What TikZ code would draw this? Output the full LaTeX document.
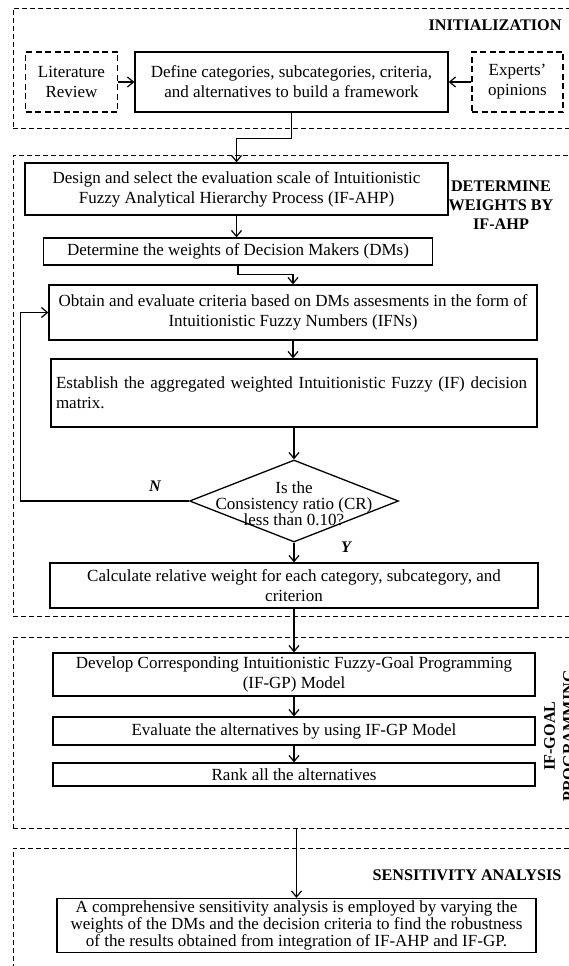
\documentclass[tikz,border=0pt]{standalone}
\usepackage{fontspec}
\setmainfont{Liberation Serif}
\usetikzlibrary{arrows.meta,shapes.geometric}
\tikzset{
  frame/.style    = { draw, dash pattern=on 5pt off 3pt, line width=0.9pt, inner sep=0pt },
  srcbox/.style   = { draw, dash pattern=on 6pt off 3.5pt, line width=1.2pt, align=center, inner sep=0pt },
  stepbox/.style  = { draw, line width=1.3pt, align=center, inner sep=0pt },
  decision/.style = { draw, diamond, line width=1.3pt, inner sep=0pt },
  phase/.style    = { font=\fontsize{16.2}{19}\selectfont\bfseries, align=center },
  answer/.style   = { font=\fontsize{16.2}{19}\selectfont\bfseries\itshape },
  flow/.style     = { line width=1.2pt, -{Straight Barb[length=6pt,width=10pt]} }
}

\begin{document}
\begin{tikzpicture}[x=1pt,y=-1pt,font=\fontsize{17}{20}\selectfont]
  \useasboundingbox (0,0) rectangle (569,966);
  % Draw the phase frames
  \node[frame, minimum width=567, minimum height=120] (initframe) at (296.5,68) {};
  \node[frame, minimum width=567, minimum height=461] (ahpframe)  at (296.5,385.5) {};
  \node[frame, minimum width=567, minimum height=191] (goalframe) at (296.5,732.5) {};
  \node[frame, minimum width=567, minimum height=142] (sensframe) at (296.5,919) {};
  % Draw phase titles
  \node[phase, anchor=east] (initlabel) at (565,25) {INITIALIZATION};
  \node[phase] (ahplabel) at (501,205) {DETERMINE\\WEIGHTS BY\\IF-AHP};
  \node[phase, rotate=90] (goallabel) at (559,736) {IF-GOAL\\PROGRAMMING};
  \node[phase, anchor=east] (senslabel) at (565,875) {SENSITIVITY ANALYSIS};
  % Draw all steps
  \node[srcbox, minimum width=92, minimum height=60] (litrev) at (71.5,82) {Literature\\Review};
  \node[stepbox, minimum width=313, minimum height=60] (define) at (291.5,82)
    {Define categories, subcategories, criteria,\\and alternatives to build a framework};
  \node[srcbox, minimum width=91, minimum height=60] (experts) at (517.5,82) {Experts'\\opinions};
  \node[stepbox, minimum width=423, minimum height=52] (design) at (236.5,189)
    {Design and select the evaluation scale of Intuitionistic\\Fuzzy Analytical Hierarchy Process (IF-AHP)};
  \node[stepbox, minimum width=389, minimum height=27] (dms) at (238,251.5)
    {Determine the weights of Decision Makers (DMs)};
  \node[stepbox, minimum width=488, minimum height=55] (obtain) at (293,312.5)
    {Obtain and evaluate criteria based on DMs assesments in the form of\\Intuitionistic Fuzzy Numbers (IFNs)};
  \node[stepbox, minimum width=486, minimum height=68, text width=476, align=left] (establish) at (294,393)
    {Establish the aggregated weighted Intuitionistic Fuzzy (IF) decision\\matrix.};
  \node[decision, minimum width=209, minimum height=82,
    label={[align=center, font=\fontsize{17}{16}\selectfont, yshift=-3pt]center:Is the\\Consistency ratio (CR)\\less than 0.10?}] (ratio) at (294,501) {};
  \node[stepbox, minimum width=488, minimum height=45] (calc) at (294,585.5)
    {Calculate relative weight for each category, subcategory, and\\criterion};
  \node[stepbox, minimum width=482, minimum height=43] (develop) at (294,674.5)
    {Develop Corresponding Intuitionistic Fuzzy-Goal Programming\\(IF-GP) Model};
  \node[stepbox, minimum width=482, minimum height=28] (evaluate) at (294,731)
    {Evaluate the alternatives by using IF-GP Model};
  \node[stepbox, minimum width=482, minimum height=23] (rank) at (294,774.5)
    {Rank all the alternatives};
  \node[stepbox, minimum width=479, minimum height=54, font=\fontsize{17}{17}\selectfont] (sens) at (296.5,925.5)
    {A comprehensive sensitivity analysis is employed by varying the\\weights of the DMs and the decision criteria to find the robustness\\of the results obtained from integration of IF-AHP and IF-GP.};
  % Draw answers
  \node[answer] (no)  at (155,486) {N};
  \node[answer] (yes) at (346,547) {Y};
  % Draw connectors
  \draw[flow] (litrev) -- (define);
  \draw[flow] (experts) -- (define);
  \draw[flow] (define.south) -- ++(0,26) -| (design.north);
  \draw[flow] (design.south) -- (design.south |- dms.north);
  \draw[flow] (dms.south) -- ++(0,9) -| (obtain.north);
  \draw[flow] (obtain.south) -- (obtain.south |- establish.north);
  \draw[flow] (establish.south) -- (ratio.north);
  \draw[flow] (ratio.west) -- ++(-168,0) |- (obtain.west);
  \draw[flow] (ratio.south) -- (calc.north);
  \draw[flow] (calc.south) -- (develop.north);
  \draw[flow] (develop.south) -- (evaluate.north);
  \draw[flow] (evaluate.south) -- (rank.north);
  \draw[flow] (sens.north |- goalframe.south) -- (sens.north);
\end{tikzpicture}
\end{document}
